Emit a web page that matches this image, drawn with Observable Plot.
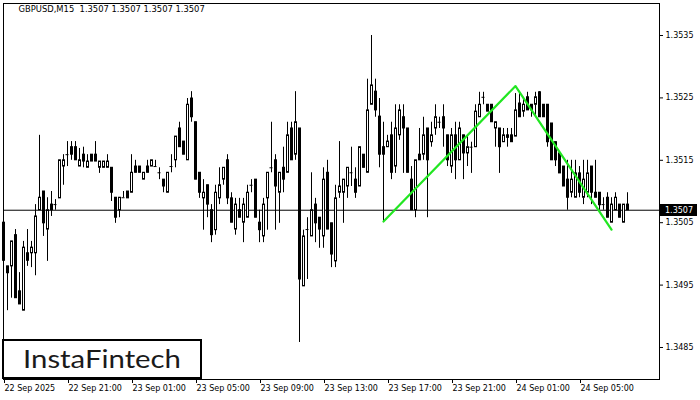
<!DOCTYPE html>
<html><head><meta charset="utf-8">
<script src="https://cdn.jsdelivr.net/npm/d3@7"></script>
<script src="https://cdn.jsdelivr.net/npm/@observablehq/plot@0.6"></script>
<style>html,body{margin:0;padding:0;background:#fff;} #chart{width:700px;height:400px;}</style>
</head><body><div id="chart"></div>
<script>
const opens = [1.35050,1.34980,1.34980,1.35030,1.34940,1.34909,1.35001,1.35001,1.35001,1.35070,
1.35100,1.35039,1.35079,1.35079,1.35089,1.35140,1.35159,1.35171,1.35171,1.35140,
1.35159,1.35138,1.35159,1.35159,1.35138,1.35138,1.35138,1.35138,1.35090,1.35070,
1.35090,1.35100,1.35098,1.35140,1.35140,1.35119,1.35140,1.35140,1.35140,1.35130,
1.35119,1.35098,1.35140,1.35150,1.35201,1.35180,1.35150,1.35249,1.35211,1.35130,
1.35089,1.35110,1.35070,1.35038,1.35089,1.35119,1.35150,1.35089,1.35039,1.35070,
1.35050,1.35058,1.35110,1.35119,1.35050,1.35028,1.35089,1.35138,1.35150,1.35098,
1.35138,1.35130,1.35201,1.35159,1.35201,1.34948,1.35039,1.35028,1.35079,1.35058,
1.35028,1.35130,1.35049,1.34988,1.35098,1.35098,1.35108,1.35130,1.35119,1.35108,
1.35159,1.35130,1.35239,1.35260,1.35220,1.35171,1.35171,1.35190,1.35140,1.35190,
1.35219,1.35201,1.35119,1.35070,1.35159,1.35159,1.35201,1.35179,1.35201,1.35211,
1.35219,1.35190,1.35140,1.35190,1.35150,1.35190,1.35161,1.35171,1.35171,1.35219,
1.35251,1.35239,1.35239,1.35201,1.35201,1.35179,1.35190,1.35190,1.35188,1.35241,
1.35228,1.35251,1.35239,1.35239,1.35259,1.35239,1.35239,1.35209,1.35179,1.35161,
1.35140,1.35119,1.35098,1.35090,1.35129,1.35090,1.35098,1.35140,1.35098,1.35098,
1.35079,1.35090,1.35050,1.35070,1.35079,1.35050,1.35079];
const highs = [1.35053,1.34980,1.35020,1.35039,1.34970,1.35020,1.35039,1.35020,1.35079,1.35190,
1.35100,1.35090,1.35100,1.35087,1.35150,1.35159,1.35180,1.35180,1.35180,1.35169,
1.35171,1.35159,1.35159,1.35180,1.35148,1.35148,1.35159,1.35138,1.35090,1.35090,
1.35100,1.35100,1.35159,1.35150,1.35140,1.35130,1.35150,1.35150,1.35150,1.35138,
1.35119,1.35130,1.35159,1.35188,1.35211,1.35180,1.35249,1.35260,1.35211,1.35130,
1.35119,1.35110,1.35079,1.35110,1.35138,1.35138,1.35159,1.35098,1.35089,1.35089,
1.35089,1.35110,1.35119,1.35119,1.35070,1.35089,1.35130,1.35211,1.35159,1.35130,
1.35171,1.35211,1.35211,1.35260,1.35201,1.35038,1.35058,1.35130,1.35089,1.35058,
1.35138,1.35150,1.35049,1.35110,1.35180,1.35119,1.35138,1.35171,1.35138,1.35171,
1.35159,1.35280,1.35350,1.35280,1.35249,1.35211,1.35190,1.35211,1.35239,1.35239,
1.35239,1.35201,1.35140,1.35150,1.35201,1.35219,1.35201,1.35211,1.35239,1.35219,
1.35239,1.35190,1.35201,1.35211,1.35211,1.35190,1.35190,1.35179,1.35239,1.35259,
1.35259,1.35239,1.35239,1.35211,1.35201,1.35201,1.35201,1.35201,1.35257,1.35257,
1.35249,1.35259,1.35239,1.35259,1.35260,1.35239,1.35239,1.35209,1.35179,1.35161,
1.35140,1.35150,1.35150,1.35150,1.35140,1.35150,1.35150,1.35140,1.35150,1.35098,
1.35090,1.35098,1.35090,1.35098,1.35079,1.35079,1.35098];
const lows = [1.34980,1.34909,1.34929,1.34929,1.34919,1.34909,1.34980,1.34978,1.34965,1.35070,
1.35028,1.34988,1.35060,1.35070,1.35089,1.35110,1.35140,1.35150,1.35150,1.35140,
1.35138,1.35138,1.35148,1.35148,1.35129,1.35138,1.35138,1.35084,1.35049,1.35058,
1.35090,1.35089,1.35098,1.35130,1.35130,1.35119,1.35130,1.35140,1.35140,1.35119,
1.35098,1.35098,1.35130,1.35138,1.35171,1.35159,1.35150,1.35211,1.35119,1.35089,
1.35038,1.35058,1.35018,1.35030,1.35079,1.35110,1.35079,1.35050,1.35030,1.35058,
1.35018,1.35058,1.35098,1.35058,1.35018,1.35018,1.35038,1.35130,1.35038,1.35049,
1.35098,1.35130,1.35150,1.35150,1.34858,1.34948,1.34959,1.35028,1.35018,1.35009,
1.35009,1.35039,1.34978,1.34978,1.35089,1.35049,1.35089,1.35108,1.35089,1.35108,
1.35138,1.35130,1.35239,1.35219,1.35138,1.35050,1.35171,1.35119,1.35129,1.35182,
1.35129,1.35130,1.35070,1.35058,1.35150,1.35150,1.35058,1.35171,1.35190,1.35201,
1.35171,1.35140,1.35129,1.35119,1.35150,1.35119,1.35140,1.35129,1.35171,1.35219,
1.35239,1.35228,1.35211,1.35171,1.35129,1.35179,1.35171,1.35179,1.35188,1.35219,
1.35219,1.35230,1.35219,1.35219,1.35219,1.35219,1.35171,1.35150,1.35140,1.35129,
1.35108,1.35070,1.35090,1.35090,1.35090,1.35079,1.35090,1.35079,1.35090,1.35070,
1.35070,1.35058,1.35050,1.35070,1.35058,1.35050,1.35070];
const closes = [1.34989,1.34969,1.35020,1.34929,1.34919,1.35010,1.34989,1.35010,1.35060,1.35090,
1.35049,1.35070,1.35070,1.35079,1.35150,1.35150,1.35159,1.35159,1.35150,1.35150,
1.35148,1.35148,1.35148,1.35148,1.35148,1.35148,1.35148,1.35098,1.35058,1.35090,
1.35090,1.35089,1.35130,1.35130,1.35130,1.35130,1.35130,1.35150,1.35140,1.35130,
1.35108,1.35130,1.35140,1.35188,1.35171,1.35159,1.35239,1.35219,1.35119,1.35098,
1.35098,1.35079,1.35030,1.35098,1.35110,1.35138,1.35089,1.35050,1.35079,1.35058,
1.35079,1.35098,1.35110,1.35058,1.35038,1.35079,1.35130,1.35138,1.35108,1.35130,
1.35119,1.35190,1.35150,1.35211,1.34959,1.35028,1.35039,1.35070,1.35049,1.35039,
1.35119,1.35039,1.34999,1.35089,1.35108,1.35119,1.35138,1.35130,1.35098,1.35171,
1.35138,1.35230,1.35270,1.35230,1.35159,1.35159,1.35180,1.35130,1.35201,1.35230,
1.35201,1.35130,1.35070,1.35150,1.35150,1.35190,1.35150,1.35190,1.35219,1.35211,
1.35201,1.35150,1.35190,1.35150,1.35201,1.35161,1.35171,1.35171,1.35228,1.35239,
1.35251,1.35228,1.35211,1.35211,1.35171,1.35190,1.35186,1.35179,1.35230,1.35219,
1.35239,1.35230,1.35230,1.35251,1.35219,1.35219,1.35179,1.35150,1.35150,1.35129,
1.35108,1.35090,1.35119,1.35129,1.35098,1.35119,1.35129,1.35098,1.35090,1.35078,
1.35079,1.35058,1.35079,1.35090,1.35058,1.35079,1.35070];

const symbolTitle = "GBPUSD,M15  1.3507 1.3507 1.3507 1.3507";
const lastPrice = 1.3507;
const yTicks = [1.3485, 1.3495, 1.3505, 1.3515, 1.3525, 1.3535];
const xTickIdx = [0, 16, 32, 48, 64, 80, 96, 112, 128, 144];
const xTickLabels = ["22 Sep 2025","22 Sep 21:00","23 Sep 01:00","23 Sep 05:00","23 Sep 09:00",
  "23 Sep 13:00","23 Sep 17:00","23 Sep 21:00","24 Sep 01:00","24 Sep 05:00"];
const patternIdx = [95, 128, 152];
const patternPrice = [1.35052, 1.35269, 1.35039];
const logoText = "InstaFintech";

const candles = opens.map((o, i) => ({i, o, h: highs[i], l: lows[i], c: closes[i]}));
const bodies = candles.filter(d => Math.abs(d.o - d.c) >= 0.00002);
const dojis = candles.filter(d => Math.abs(d.o - d.c) < 0.00002);
const pattern = patternIdx.map((i, k) => ({i, p: patternPrice[k]}));
const labelMap = new Map(xTickIdx.map((d, k) => [d, xTickLabels[k]]));

const W = 700, H = 400, mL = 3, mR = 41, mT = 3, mB = 21;
const chart = Plot.plot({
  width: W, height: H, marginLeft: mL, marginRight: mR, marginTop: mT, marginBottom: mB,
  style: {fontFamily: "'DejaVu Sans', sans-serif", fontSize: "8px", color: "black", background: "white"},
  x: {type: "linear", domain: [0, 164], axis: null, label: null},
  y: {domain: [1.347987, 1.354013], axis: null, label: null},
  color: {type: "identity"},
  marks: [
    Plot.ruleY([lastPrice], {stroke: "black", strokeWidth: 1}),
    Plot.ruleX(candles, {x: "i", y1: d => Math.min(d.l, d.o, d.c), y2: d => Math.max(d.h, d.o, d.c), stroke: "black", strokeWidth: 1}),
    Plot.rect(bodies, {x1: d => d.i - 0.125, x2: d => d.i + 0.375, y1: "o", y2: "c",
      fill: d => d.c > d.o ? "white" : "black", stroke: "black", strokeWidth: 1}),
    Plot.ruleY(dojis, {y: "o", x1: d => d.i - 0.375, x2: d => d.i + 0.375, stroke: "black", strokeWidth: 1}),
    Plot.line(pattern, {x: "i", y: "p", stroke: "#22e622", strokeWidth: 2.2}),
    Plot.frame({stroke: "black"}),
    Plot.axisY(yTicks, {anchor: "right", label: null, tickSize: 3, tickPadding: 3, tickFormat: d => d.toFixed(4)}),
    Plot.axisX(xTickIdx, {anchor: "bottom", label: null, tickSize: 4, tickPadding: 2, textAnchor: "start", dx: 1, tickFormat: d => labelMap.get(d)}),
    Plot.text([symbolTitle], {frameAnchor: "top-left", dx: 15, dy: 3, textAnchor: "start", lineAnchor: "top", fontSize: 8.4})
  ]
});

const svg = d3.select(chart);
const yLast = chart.scale("y").apply(lastPrice);
const gBox = svg.append("g").attr("text-anchor", "start");
gBox.append("rect").attr("x", W - mR + 1).attr("y", Math.round(yLast) - 6).attr("width", 37).attr("height", 12).attr("fill", "black");
gBox.append("text").attr("x", W - mR + 6).attr("y", yLast).attr("dy", "0.35em").attr("text-anchor", "start")
  .attr("fill", "white").attr("font-size", 8).attr("font-family", "'DejaVu Sans', sans-serif").text(lastPrice.toFixed(4));

const gLogo = svg.append("g").attr("text-anchor", "start");
gLogo.append("rect").attr("x", 3).attr("y", 340).attr("width", 198).attr("height", 38)
  .attr("fill", "white").attr("stroke", "black").attr("stroke-width", 2);
gLogo.append("text").attr("x", 23).attr("y", 368).attr("text-anchor", "start").attr("font-family", "Lato, 'Open Sans', sans-serif")
  .attr("font-size", 25).attr("fill", "#1a1a1a").attr("textLength", 158).attr("lengthAdjust", "spacingAndGlyphs").text(logoText);

document.getElementById("chart").appendChild(chart);
</script>
</body></html>
